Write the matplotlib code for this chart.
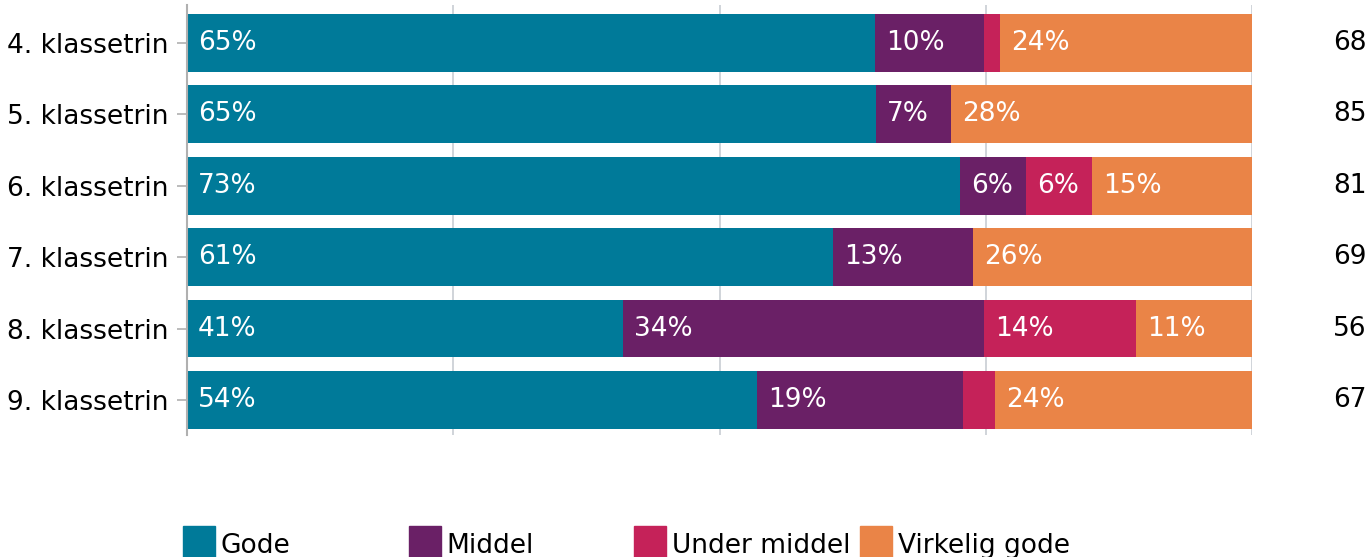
import matplotlib.pyplot as plt
import numpy as np
from matplotlib.patches import Rectangle
from matplotlib.transforms import blended_transform_factory

# data
grades = ["4. klassetrin", "5. klassetrin", "6. klassetrin",
          "7. klassetrin", "8. klassetrin", "9. klassetrin"]
gode = [64.6, 64.7, 72.6, 60.7, 40.9, 53.5]
middel = [10.2, 7.0, 6.2, 13.1, 33.9, 19.4]
under_middel = [1.5, 0.0, 6.2, 0.0, 14.3, 3.0]
virkelig_gode = [23.7, 28.3, 15.0, 26.2, 10.9, 24.1]
n_answers = [68, 85, 81, 69, 56, 67]

series = ["Gode", "Middel", "Under middel", "Virkelig gode"]
colors = ["#007A99", "#6A2066", "#C52259", "#EA8447"]

plt.rcParams["font.family"] = "DejaVu Sans"
FS = 19

fig = plt.figure(figsize=(13.67, 5.57), dpi=100)
ax = fig.add_axes([187 / 1367, 122 / 557, 1065 / 1367, 430 / 557])

y = np.arange(len(grades))
left = np.zeros(len(grades))
for name, vals, col in zip(series, [gode, middel, under_middel, virkelig_gode], colors):
    vals = np.array(vals)
    ax.barh(y, vals, left=left, height=0.81, color=col, label=name, zorder=2)
    for yi, l, v in zip(y, left, vals):
        if v >= 5:
            ax.annotate(f"{round(v):.0f}%", xy=(l, yi), xytext=(8, 0),
                        textcoords="offset points", ha="left", va="center",
                        color="white", fontsize=FS, zorder=3)
    left += vals

ax.set_xlim(0, 100)
ax.set_ylim(5.49, -0.53)
ax.set_yticks(y)
ax.set_yticklabels(grades, fontsize=FS)
ax.tick_params(axis="y", length=7, width=1.2, color="#B0B0B0", pad=6)
ax.set_xticks([0, 25, 50, 75, 100])
ax.tick_params(axis="x", length=0, labelbottom=False)
ax.grid(axis="x", color="#C8CDD3", linewidth=1.2, zorder=0)
for s in ["top", "right", "bottom"]:
    ax.spines[s].set_visible(False)
ax.spines["left"].set_color("#B0B0B0")
ax.spines["left"].set_linewidth(1.5)
ax.spines["left"].set_zorder(3)

# number of answers at the right
trans = blended_transform_factory(fig.transFigure, ax.transData)
for yi, n in zip(y, n_answers):
    ax.text(1333 / 1367, yi, str(n), transform=trans, ha="left", va="center",
            fontsize=FS, color="black", clip_on=False)

# legend drawn by hand, fixed column spacing
for i, (name, col) in enumerate(zip(series, colors)):
    x0 = 183 + i * 225.5
    fig.add_artist(Rectangle((x0 / 1367, -1 / 557), 32 / 1367, 32 / 557,
                             transform=fig.transFigure, color=col))
    fig.text((x0 + 38) / 1367, 4 / 557, name, ha="left", va="baseline",
             fontsize=FS, color="black")

fig.savefig("out.png", dpi=100)
